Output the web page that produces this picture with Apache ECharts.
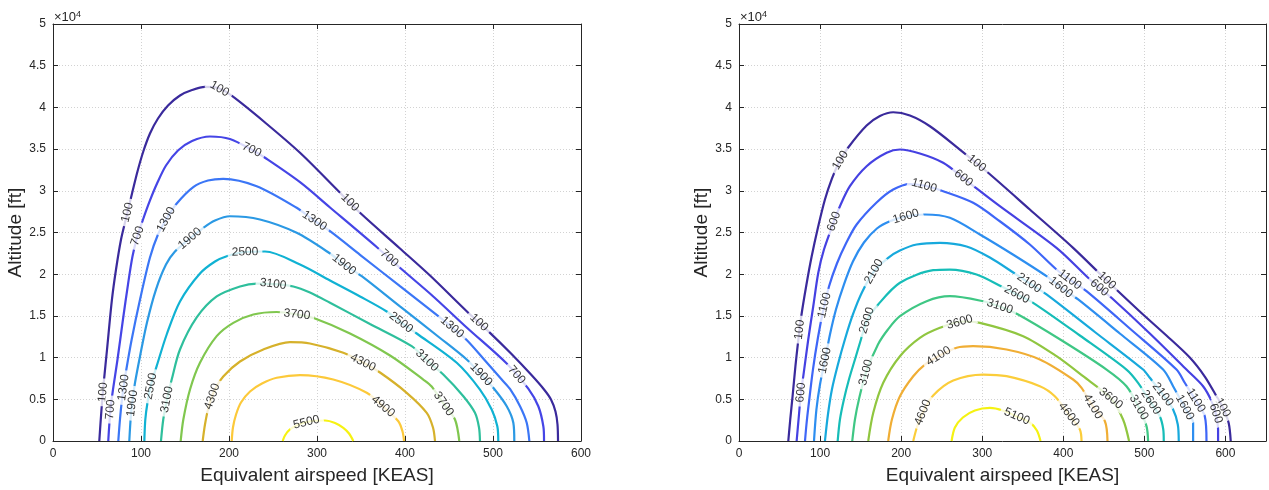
<!DOCTYPE html>
<html>
<head>
<meta charset="utf-8">
<script src="https://cdn.jsdelivr.net/npm/echarts@6/dist/echarts.min.js"></script>
<style>
html, body { margin: 0; padding: 0; background: #ffffff; }
#chart { width: 1269px; height: 490px; }
</style>
</head>
<body>
<div id="chart"></div>
<script>
// ---- Panel A: contour levels and traced level curves [KEAS, ft] ----
const levelsA = [100, 700, 1300, 1900, 2500, 3100, 3700, 4300, 4900, 5500];

const A100 = [[52.6,0],[55.1,3780],[58.0,7370],[61.4,10970],[67.0,16970],[71.6,20560],[77.3,24160],[83.5,26920],[89.8,29680],[96.0,32310],[102.6,34710],[110.2,36870],[119.3,38670],[130.7,40230],[144.3,41430],[158.0,42080],[172.7,42450],[187.5,42320],[203.4,41370],[240.9,38190],[280.7,34560],[324.2,29980],[348.9,27360],[394.3,23080],[428.4,19840],[470.1,15560],[496.6,12970],[520.5,10490],[543.2,7970],[558.0,6180],[565.9,4980],[571.0,3540],[573.3,1980],[573.9,0]];
const A700 = [[62.8,0],[65.3,3780],[68.2,6180],[73.3,9770],[79.5,14570],[85.2,18760],[90.3,22120],[95.5,24400],[102.3,26560],[110.2,28840],[118.2,30870],[128.4,33030],[142.0,34830],[158.0,35970],[178.4,36510],[201.1,36210],[227.3,34830],[240.9,33960],[280.7,31030],[314.8,28000],[367.8,23260],[394.3,20770],[431.8,17360],[470.1,13610],[515.6,9290],[540.1,6290],[551.5,4170],[557.2,1770],[558.0,0]];
const A1300 = [[74.2,0],[76.1,2580],[78.4,4980],[80.7,6770],[83.0,8370],[89.4,12170],[98.9,16970],[110.2,22000],[119.3,24760],[129.2,26680],[140.6,28480],[159.4,30450],[176.1,31230],[193.5,31440],[231.5,30550],[276.9,27960],[296.6,26440],[314.8,25160],[348.9,22330],[394.3,18560],[437.8,14960],[452.3,13730],[470.1,12110],[490.9,9650],[509.9,7370],[519.3,6240],[530.7,4170],[538.3,2180],[541.3,0]];
const A1900 = [[86.7,0],[88.6,3180],[90.9,5220],[93.2,6980],[98.9,10170],[106.8,14210],[117.0,18160],[128.4,21160],[138.6,22720],[155.7,24280],[170.8,25560],[184.1,26440],[201.1,26950],[235.2,26560],[276.9,24960],[314.8,22480],[330.7,21160],[350.8,19760],[394.3,16130],[439.8,12350],[470.1,9770],[486.4,7970],[500.3,6380],[515.6,4170],[523.1,2180],[524.2,0]];
const A2500 = [[103.8,0],[104.9,2580],[107.4,4620],[111.4,6770],[117.8,8970],[129.2,12770],[144.3,16730],[167.0,20080],[184.1,21520],[197.4,22160],[218.2,22660],[240.9,22720],[280.7,21160],[314.8,19240],[348.9,17330],[379.2,15530],[395.5,14210],[413.3,12890],[458.8,9380],[485.2,6170],[498.5,3780],[504.9,1770],[506.0,0]];
const A3100 = [[122.7,0],[125.3,2580],[129.5,4980],[134.9,7370],[144.3,10970],[163.3,14810],[186.0,17330],[212.5,18530],[231.5,18880],[250.0,18820],[273.1,18530],[292.0,17810],[314.8,16570],[360.2,14030],[407.6,11370],[425.0,9650],[443.5,7970],[466.3,5370],[479.5,3380],[484.1,1620],[485.2,0]];
const A3700 = [[145.1,0],[148.1,2580],[155.7,6180],[167.0,9380],[186.0,12570],[204.9,14170],[227.6,15170],[254.2,15470],[277.3,15170],[297.7,14690],[337.5,12890],[383.0,10250],[420.8,7370],[430.3,6540],[444.3,4380],[456.8,2580],[461.7,0]];
const A4300 = [[170.1,0],[172.7,1980],[176.7,4020],[183.0,5940],[193.5,7730],[212.5,9530],[239.0,10970],[269.3,11850],[292.0,11690],[329.9,10580],[352.3,9410],[371.6,8210],[401.9,5780],[424.7,3380],[431.8,1620],[434.1,0]];
const A4900 = [[203.1,0],[204.5,1620],[208.0,3180],[213.6,4620],[223.9,5940],[237.5,6890],[254.2,7580],[280.7,7910],[318.5,7370],[356.5,5780],[375.0,4140],[392.4,2370],[397.2,1140],[398.9,0]];
const A5500 = [[261.0,0],[263.6,660],[269.3,1380],[280.7,2040],[294.3,2400],[309.1,2460],[320.5,2160],[329.9,1580],[336.4,900],[341.3,0]];

// inline label anchors for panel A
const A100_TAGS = [[58.0,5820],[84.7,27400],[187.5,41900],[336.4,28480],[484.1,14210]];
const A700_TAGS = [[64.8,3780],[97.7,24520],[226.1,34950],[380.7,21760],[527.3,7970]];
const A1300_TAGS = [[79.5,6420],[129.5,26500],[296.6,26320],[452.3,13490]];
const A1900_TAGS = [[92.0,4500],[155.7,24280],[330.7,21160],[486.4,7970]];
const A2500_TAGS = [[112.5,6540],[218.2,22720],[395.5,14210]];
const A3100_TAGS = [[129.5,4980],[250.0,18760],[425.0,9650]];
const A3700_TAGS = [[277.3,15170],[444.3,4500]];
const A4300_TAGS = [[180.7,5340],[352.3,9410]];
const A4900_TAGS = [[375.0,4140]];
const A5500_TAGS = [[288.6,1980]];

// ---- Panel B: contour levels and traced level curves [KEAS, ft] ----
const levelsB = [100, 600, 1100, 1600, 2100, 2600, 3100, 3600, 4100, 4600, 5100];

const B100 = [[60.8,0],[63.2,2580],[66.1,5370],[69.6,8970],[72.5,11570],[76.8,14960],[83.2,18760],[89.6,22120],[97.4,25600],[106.0,28960],[114.6,31470],[123.3,33390],[134.7,35190],[157.4,37830],[173.8,38970],[190.2,39420],[210.8,39030],[235.5,37740],[272.4,34950],[307.3,32160],[358.7,27760],[412.1,23160],[453.7,19240],[494.3,15530],[527.2,12650],[556.0,10010],[574.5,7730],[588.9,5370],[597.9,3780],[604.1,2100],[606.5,0]];
const B600 = [[71.1,0],[74.0,3180],[76.4,5820],[79.3,7770],[85.4,12170],[91.6,16160],[97.8,20170],[104.8,22960],[117.1,26320],[124.5,28150],[136.8,30550],[157.4,32950],[182.1,34560],[198.5,34950],[223.1,34470],[251.8,33360],[276.1,31590],[293.0,30280],[321.7,28150],[391.6,23160],[428.6,19760],[443.8,18410],[459.4,17170],[506.7,12890],[551.9,8570],[572.4,6570],[583.1,4740],[588.0,3300],[590.9,1380],[590.9,0]];
const B1100 = [[81.4,0],[83.2,1980],[85.7,4170],[91.2,8570],[97.4,12410],[103.6,15530],[111.0,18520],[120.8,21280],[131.9,23680],[145.1,25960],[169.7,28600],[190.2,30160],[210.8,30810],[228.1,30630],[251.8,29950],[288.8,28560],[321.7,26350],[358.7,23560],[391.6,20560],[408.0,19360],[428.6,17960],[482.0,13490],[539.6,8570],[549.8,6980],[563.4,4860],[574.5,2970],[576.6,0]];
const B1600 = [[92.5,0],[95.5,3780],[99.9,6780],[106.0,9650],[112.2,12770],[119.6,15770],[129.4,18760],[140.5,21520],[154.1,23800],[170.1,25480],[186.1,26350],[205.9,26920],[229.3,27160],[260.1,26760],[297.1,24760],[337.8,22360],[379.3,19760],[396.9,18410],[418.3,16970],[469.7,12890],[523.1,8570],[535.4,6570],[549.8,4020],[560.1,2180],[560.1,0]];
const B2100 = [[106.0,0],[109.7,3180],[114.6,6180],[122.0,9170],[130.6,12170],[140.5,15170],[151.6,17810],[166.4,20320],[184.0,21970],[198.5,22840],[219.1,23560],[247.8,23760],[280.7,23320],[309.4,22000],[340.2,20080],[358.7,18880],[379.3,17570],[438.9,13070],[498.4,8570],[506.7,7580],[522.7,5580],[535.4,3780],[541.2,1980],[542.4,0]];
const B2600 = [[121.7,0],[124.5,2580],[129.4,4980],[135.6,7370],[143.0,9770],[150.4,12170],[157.8,14450],[171.7,16370],[198.5,18970],[239.5,20480],[260.1,20560],[293.0,19960],[323.8,18520],[342.7,17570],[362.8,16570],[420.4,12650],[477.9,8570],[492.2,6980],[507.9,4620],[519.0,2970],[523.3,1380],[523.9,0]];
const B3100 = [[139.7,0],[143.0,2580],[147.9,4980],[156.6,8210],[171.4,11570],[183.7,13370],[198.5,14960],[231.4,16760],[260.1,17360],[301.2,16760],[321.7,16130],[344.3,15170],[398.2,12050],[453.3,8570],[477.9,6570],[493.1,4020],[502.6,1780],[504.6,0]];
const B3600 = [[159.4,0],[165.6,3380],[177.9,6980],[198.5,10170],[223.1,12370],[247.8,13570],[274.9,14330],[297.1,14170],[350.5,12570],[391.6,10170],[424.4,7770],[458.7,5100],[473.7,2580],[481.1,0]];
const B4100 = [[184.0,0],[188.6,2580],[198.5,5370],[214.9,7770],[229.3,9170],[246.5,10190],[268.4,11180],[288.8,11370],[330.0,10970],[371.1,9770],[412.1,7370],[422.5,6380],[436.4,4140],[451.3,2370],[454.5,0]];
const B4600 = [[214.9,0],[219.4,1620],[226.8,3420],[239.5,5460],[264.2,7250],[301.2,7970],[330.0,7770],[371.1,6570],[389.5,5370],[406.8,3180],[420.4,1380],[422.5,0]];
const B5100 = [[262.2,0],[266.3,1620],[276.1,2820],[290.9,3660],[309.4,3960],[325.4,3660],[342.7,2940],[358.7,2220],[367.4,1260],[371.9,0]];

// inline label anchors for panel B
const B100_TAGS = [[72.7,13370],[123.3,33750],[294.0,33390],[453.6,19240],[599.1,4140]];
const B600_TAGS = [[76.4,5820],[117.1,26320],[277.4,31590],[443.8,18280],[588.0,3300]];
const B1100_TAGS = [[106.0,16250],[228.1,30520],[408.0,19360],[563.4,4860]];
const B1600_TAGS = [[106.0,9650],[205.9,26920],[396.9,18410],[549.8,4020]];
const B2100_TAGS = [[166.4,20320],[357.5,18880],[522.7,5580]];
const B2600_TAGS = [[157.8,14450],[342.7,17570],[507.9,4620]];
const B3100_TAGS = [[156.6,8210],[321.7,16130],[493.1,4020]];
const B3600_TAGS = [[272.4,14210],[458.6,5100]];
const B4100_TAGS = [[246.5,10130],[436.4,4140]];
const B4600_TAGS = [[226.8,3420],[406.8,3180]];
const B5100_TAGS = [[342.7,2940]];

// axis ranges
const speedTicks = [0, 100, 200, 300, 400, 500, 600];
const altitudeTicks = [0, 5000, 10000, 15000, 20000, 25000, 30000, 35000, 40000, 45000, 50000];

// line colours (parula-like ramp)
const colorsA = ['#3a2a9c', '#4545e6', '#3b76f6', '#2b99e4', '#10b2d3', '#2ebf9c', '#80c74f', '#d6b12b', '#fcc93a', '#f6f212'];
const colorsB = ['#3a2a9c', '#4541e2', '#3e66f7', '#2d8ef0', '#17a9dc', '#16bdb8', '#3fc784', '#90c640', '#f0ae35', '#fbcd3a', '#f5f212'];

const panels = [
  {
    levels: levelsA,
    lines: [A100, A700, A1300, A1900, A2500, A3100, A3700, A4300, A4900, A5500],
    tags: [A100_TAGS, A700_TAGS, A1300_TAGS, A1900_TAGS, A2500_TAGS, A3100_TAGS, A3700_TAGS, A4300_TAGS, A4900_TAGS, A5500_TAGS],
    colors: colorsA,
    xMax: 600,
    grid: { left: 53, right: 688, top: 24, bottom: 48 }
  },
  {
    levels: levelsB,
    lines: [B100, B600, B1100, B1600, B2100, B2600, B3100, B3600, B4100, B4600, B5100],
    tags: [B100_TAGS, B600_TAGS, B1100_TAGS, B1600_TAGS, B2100_TAGS, B2600_TAGS, B3100_TAGS, B3600_TAGS, B4100_TAGS, B4600_TAGS, B5100_TAGS],
    colors: colorsB,
    xMax: 650,
    grid: { left: 739, right: 3, top: 24, bottom: 48 }
  }
];

const FONT = '"Liberation Sans", Arial, Helvetica, sans-serif';
const INK = '#262626';

const chart = echarts.init(document.getElementById('chart'), null, { renderer: 'canvas' });

const grid = [], xAxis = [], yAxis = [], series = [];
const speedStep = speedTicks[1] - speedTicks[0];
const altStep = altitudeTicks[1] - altitudeTicks[0];

panels.forEach((p, gi) => {
  grid.push(p.grid);
  const common = {
    gridIndex: gi,
    type: 'value',
    axisLine: { show: true, onZero: false, lineStyle: { color: INK, width: 1 } },
    axisTick: { show: true, inside: true, length: 5, lineStyle: { color: INK, width: 1 } }
  };
  // bottom axis
  xAxis.push(Object.assign({}, common, {
    position: 'bottom',
    min: speedTicks[0], max: p.xMax, interval: speedStep,
    axisLabel: {
      color: INK, fontSize: 12, fontFamily: FONT, margin: 7,
      formatter: v => (speedTicks.indexOf(v) >= 0 ? String(v) : '')
    },
    splitLine: { show: true, lineStyle: { color: '#d2d2d2', width: 1, type: [1, 2] } },
    name: 'Equivalent airspeed [KEAS]',
    nameLocation: 'middle',
    nameGap: 25,
    nameTextStyle: { color: INK, fontSize: 19, fontFamily: FONT }
  }));
  // top box edge
  xAxis.push(Object.assign({}, common, {
    position: 'top',
    min: speedTicks[0], max: p.xMax, interval: speedStep,
    axisLabel: { show: false },
    splitLine: { show: false }
  }));
  // left axis
  yAxis.push(Object.assign({}, common, {
    position: 'left',
    min: altitudeTicks[0], max: altitudeTicks[altitudeTicks.length - 1], interval: altStep,
    axisLabel: {
      color: INK, fontSize: 12, fontFamily: FONT, margin: 7,
      formatter: v => String(v / 10000)
    },
    splitLine: { show: true, lineStyle: { color: '#d2d2d2', width: 1, type: [1, 2] } },
    name: 'Altitude [ft]',
    nameLocation: 'middle',
    nameGap: 24,
    nameTextStyle: { color: INK, fontSize: 19, fontFamily: FONT }
  }));
  // right box edge
  yAxis.push(Object.assign({}, common, {
    position: 'right',
    min: altitudeTicks[0], max: altitudeTicks[altitudeTicks.length - 1], interval: altStep,
    axisLabel: { show: false },
    splitLine: { show: false }
  }));

  p.lines.forEach((pts, k) => {
    series.push({
      type: 'line',
      xAxisIndex: gi * 2,
      yAxisIndex: gi * 2,
      data: pts,
      smooth: 0.3,
      showSymbol: false,
      silent: true,
      z: 2,
      lineStyle: { color: p.colors[k], width: 2.2 },
      itemStyle: { color: p.colors[k] }
    });
  });
});

// exponent note "x10^4" above each altitude axis
const graphic = [];
panels.forEach(p => {
  graphic.push({
    type: 'text', x: p.grid.left + 1, y: 24, silent: true,
    style: { text: '\u00d710', fill: INK, fontSize: 13, fontFamily: FONT, align: 'left', verticalAlign: 'bottom' }
  });
  graphic.push({
    type: 'text', x: p.grid.left + 23, y: 10, silent: true,
    style: { text: '4', fill: INK, fontSize: 9, fontFamily: FONT, align: 'left', verticalAlign: 'top' }
  });
});

chart.setOption({ animation: false, grid, xAxis, yAxis, series, graphic });

// place each level value on its curve, turned along the local direction
const labelSeries = [];
let sIdx = 0;
panels.forEach((p, gi) => {
  const data = [];
  p.lines.forEach((pts, k) => {
    const seriesIndex = sIdx++;
    const pix = pts.map(v => chart.convertToPixel({ seriesIndex }, v));
    p.tags[k].forEach(t => {
      const q = chart.convertToPixel({ seriesIndex }, t);
      let best = null;
      for (let i = 0; i < pix.length - 1; i++) {
        const a = pix[i], b = pix[i + 1];
        const dx = b[0] - a[0], dy = b[1] - a[1];
        const len2 = dx * dx + dy * dy || 1;
        let u = ((q[0] - a[0]) * dx + (q[1] - a[1]) * dy) / len2;
        u = Math.max(0, Math.min(1, u));
        const cx = a[0] + u * dx, cy = a[1] + u * dy;
        const d = (q[0] - cx) * (q[0] - cx) + (q[1] - cy) * (q[1] - cy);
        if (!best || d < best.d) best = { d, cx, cy, dx, dy };
      }
      let ang = Math.atan2(-best.dy, best.dx) * 180 / Math.PI;
      if (ang > 90) ang -= 180;
      if (ang < -90) ang += 180;
      data.push({
        value: chart.convertFromPixel({ seriesIndex }, [best.cx, best.cy]),
        label: { rotate: ang, formatter: String(p.levels[k]) }
      });
    });
  });
  labelSeries.push({
    type: 'scatter',
    xAxisIndex: gi * 2,
    yAxisIndex: gi * 2,
    symbolSize: 1,
    itemStyle: { color: 'rgba(0,0,0,0)' },
    silent: true,
    z: 5,
    label: {
      show: true,
      position: 'inside',
      fontSize: 12,
      fontFamily: FONT,
      color: '#000000',
      backgroundColor: '#ffffff',
      padding: [0, 4],
      lineHeight: 12
    },
    data
  });
});

chart.setOption({ series: series.concat(labelSeries) });
</script>
</body>
</html>
